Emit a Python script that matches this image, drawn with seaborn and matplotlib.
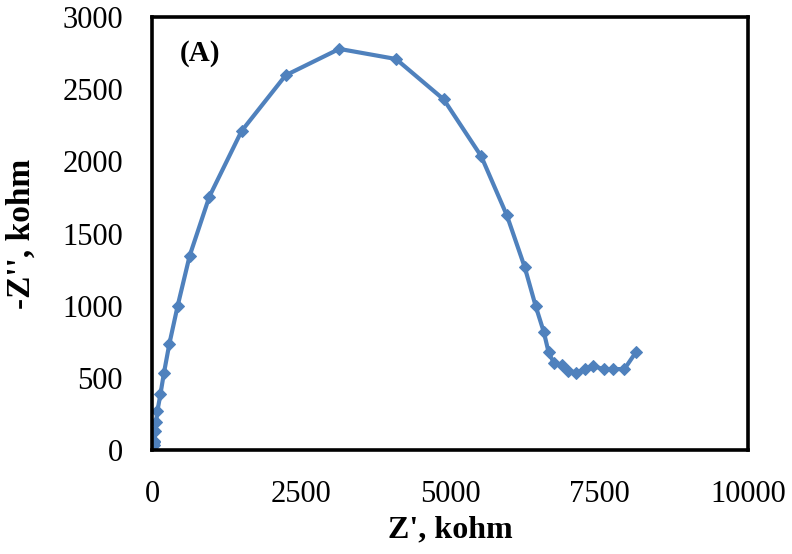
import numpy as np
import pandas as pd
import seaborn as sns
import matplotlib.pyplot as plt

# Nyquist data
z_real = [40, 35, 30, 40, 50, 65, 90, 140, 200, 290, 430, 630, 960, 1500, 2240,
          3140, 4090, 4890, 5520, 5950, 6250, 6430, 6570, 6650, 6740, 6870, 6980,
          7110, 7260, 7400, 7570, 7730, 7920, 8110]
z_imag = [15, 35, 60, 90, 130, 190, 270, 385, 535, 735, 1000, 1345, 1755, 2210, 2597,
          2780, 2710, 2430, 2035, 1625, 1265, 1000, 815, 675, 600, 590, 550,
          535, 560, 580, 560, 560, 560, 675]
x_ticks = [0, 2500, 5000, 7500, 10000]
y_ticks = [0, 500, 1000, 1500, 2000, 2500, 3000]

df = pd.DataFrame({"zr": z_real, "zi": z_imag})

sns.set_style("white")
plt.rcParams['font.family'] = ['Liberation Serif', 'DejaVu Serif']
plt.rcParams['text.color'] = 'black'

fig = plt.figure(figsize=(7.92, 5.54), dpi=100)
ax = fig.add_axes([0.192, 0.188, 0.753, 0.781])

sns.lineplot(data=df, x="zr", y="zi", sort=False, ax=ax, color="#4F81BD",
             linewidth=3, marker="D", markersize=6, markeredgecolor="#4F81BD")

ax.set_xlim(0, 10000)
ax.set_ylim(0, 3000)
ax.set_xticks(x_ticks)
ax.set_yticks(y_ticks)
ax.tick_params(direction="in", length=7, width=2.5, labelsize=22, colors="black")
ax.tick_params(axis="x", pad=22)
ax.tick_params(axis="y", pad=21)
for s in ax.spines.values():
    s.set_linewidth(2.6)
    s.set_color("black")

ax.set_xlabel("Z', kohm", fontsize=23, fontweight="bold", labelpad=4, color="black")
ax.set_ylabel("-Z'', kohm", fontsize=24, fontweight="bold", labelpad=18, color="black")
ax.text(0.047, 0.90, "(A)", transform=ax.transAxes, fontsize=21, fontweight="bold")

fig.savefig("out.png", dpi=100)
